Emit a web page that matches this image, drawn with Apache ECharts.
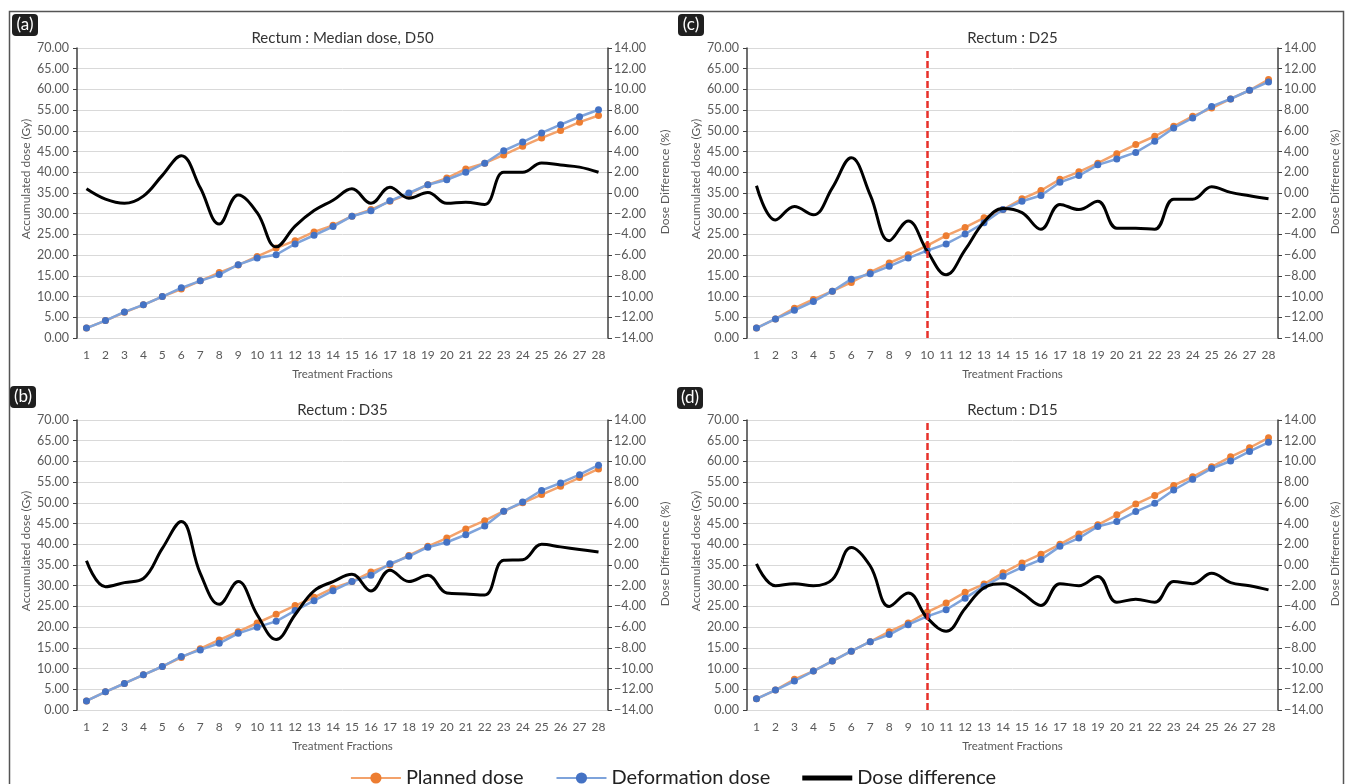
<!DOCTYPE html>
<html><head><meta charset="utf-8">
<script src="https://cdn.jsdelivr.net/npm/echarts@6/dist/echarts.min.js"></script>
<style>html,body{margin:0;padding:0;background:#fff}#c{width:1346px;height:784px}</style>
</head><body><div id="c"></div>
<script>
// ---- data ----
const fractions = ['1','2','3','4','5','6','7','8','9','10','11','12','13','14','15','16','17','18','19','20','21','22','23','24','25','26','27','28'];
const seriesNames = ['Planned dose','Deformation dose','Dose difference'];
const panelTitles = ['Rectum : Median dose, D50','Rectum : D35','Rectum : D25','Rectum : D15'];
const panelTags = ['(a)','(b)','(c)','(d)'];

// (a) Median dose, D50
const aPlanned = [2.4,4.2,6.2,8.0,10.0,11.8,13.8,15.8,17.6,19.7,21.7,23.5,25.6,27.2,29.4,31.0,33.0,34.8,37.0,38.6,40.8,42.2,44.2,46.3,48.3,50.1,52.1,53.7];
const aDeform  = [2.4,4.2,6.3,8.0,10.0,12.1,13.8,15.3,17.7,19.3,20.1,22.7,24.8,26.9,29.4,30.7,33.1,35.0,37.0,38.2,40.0,42.2,45.2,47.3,49.5,51.5,53.4,55.1];
const aDiff    = [0.4,-0.6,-1.0,-0.3,1.7,3.6,0.5,-3.0,-0.2,-1.9,-5.2,-3.2,-1.7,-0.7,0.4,-1.0,0.55,-0.5,0.05,-1.0,-0.9,-1.1,2.0,2.0,2.9,2.7,2.5,2.0];
// (b) D35
const bPlanned = [2.2,4.4,6.4,8.5,10.5,12.7,14.8,16.9,18.9,21.0,23.1,25.2,27.2,29.4,31.0,33.3,35.0,37.3,39.5,41.5,43.7,45.7,48.0,50.0,52.0,54.0,56.1,58.2];
const bDeform  = [2.2,4.4,6.4,8.5,10.5,12.9,14.5,16.1,18.5,20.0,21.4,24.0,26.4,28.8,31.0,32.5,35.3,37.1,39.3,40.5,42.3,44.4,48.0,50.2,53.0,54.8,56.8,59.1];
const bDiff    = [0.4,-2.1,-1.7,-1.3,1.6,4.2,-0.8,-3.8,-1.6,-4.8,-7.2,-4.8,-2.5,-1.6,-0.9,-2.5,-0.5,-1.6,-1.0,-2.7,-2.8,-2.9,0.45,0.5,2.0,1.75,1.5,1.25];
// (c) D25
const cPlanned = [2.4,4.6,7.2,9.3,11.3,13.4,15.9,18.1,20.1,22.3,24.7,26.7,29.0,31.0,33.6,35.6,38.3,40.1,42.2,44.5,46.7,48.7,51.1,53.5,55.5,57.7,59.8,62.4];
const cDeform  = [2.4,4.6,6.7,8.8,11.3,14.2,15.5,17.3,19.3,21.1,22.7,25.1,27.8,31.0,33.0,34.4,37.6,39.2,41.8,43.2,44.8,47.5,50.7,53.1,55.9,57.7,59.8,61.8];
const cDiff    = [0.7,-2.6,-1.3,-2.1,0.5,3.4,-0.2,-4.6,-2.7,-5.6,-7.9,-5.5,-2.8,-1.5,-1.9,-3.5,-1.1,-1.6,-0.8,-3.4,-3.4,-3.5,-0.6,-0.6,0.6,0.06,-0.26,-0.55];
// (d) D15
const dPlanned = [2.7,4.8,7.4,9.4,11.8,14.2,16.5,18.9,21.0,23.6,25.8,28.4,30.4,33.1,35.5,37.6,40.0,42.5,44.7,47.1,49.7,51.8,54.2,56.3,58.7,61.1,63.3,65.7];
const dDeform  = [2.7,4.8,7.0,9.4,11.8,14.2,16.5,18.2,20.6,22.6,24.2,27.0,29.9,32.3,34.4,36.3,39.5,41.5,44.3,45.5,47.9,49.9,53.1,55.7,58.3,60.1,62.4,64.6];
const dDiff    = [0.1,-2.0,-1.8,-2.0,-1.4,1.7,-0.1,-4.0,-2.7,-5.1,-6.4,-4.2,-2.2,-1.8,-2.7,-3.9,-1.8,-2.0,-1.1,-3.6,-3.3,-3.6,-1.6,-1.8,-0.8,-1.7,-2.0,-2.4];
const cutoffFraction = '10';

// ---- layout ----
const FONT = 'Lato, "Open Sans", sans-serif';
const panels = [
  {planned:aPlanned, deform:aDeform, diff:aDiff, cut:false, left:77,  top:48},
  {planned:bPlanned, deform:bDeform, diff:bDiff, cut:false, left:77,  top:420},
  {planned:cPlanned, deform:cDeform, diff:cDiff, cut:true,  left:747, top:48},
  {planned:dPlanned, deform:dDeform, diff:dDiff, cut:true,  left:747, top:420}
];
const GW = 531, GH = 290;
const fmt = v => (v < 0 ? '\u2212' + Math.abs(v).toFixed(2) : v.toFixed(2));

const grid = [], xAxis = [], yAxis = [], series = [], title = [], graphic = [];
const axisColor = '#404040', labelColor = '#595959';

panels.forEach((p, i) => {
  grid.push({left:p.left, top:p.top, width:GW, height:GH, containLabel:false});
  title.push({text:panelTitles[i], left:p.left + GW/2, top:p.top - 17, textAlign:'center', padding:0,
    textStyle:{fontFamily:FONT, fontSize:15, fontWeight:'normal', color:'#333'}});
  xAxis.push({type:'category', gridIndex:i, data:fractions, boundaryGap:true,
    axisLine:{show:false}, axisTick:{show:false},
    axisLabel:{interval:0, margin:11, fontFamily:FONT, fontSize:12, color:labelColor},
    name:'Treatment Fractions', nameLocation:'middle', nameGap:30,
    nameTextStyle:{fontFamily:FONT, fontSize:11.5, color:labelColor}});
  yAxis.push({type:'value', gridIndex:i, position:'left', min:0, max:70, interval:5,
    axisLine:{show:true, lineStyle:{color:axisColor, width:1.5}},
    axisTick:{show:true, length:4, lineStyle:{color:axisColor}},
    axisLabel:{margin:8, formatter:fmt, fontFamily:FONT, fontSize:12.5, color:labelColor},
    splitLine:{show:true, lineStyle:{color:'#d9d9d9', width:1}},
    name:'Accumulated dose (Gy)', nameLocation:'middle', nameRotate:90, nameGap:45,
    nameTextStyle:{fontFamily:FONT, fontSize:12, color:labelColor, padding:[0,0,0,28]}});
  yAxis.push({type:'value', gridIndex:i, position:'right', min:-14, max:14, interval:2,
    axisLine:{show:true, lineStyle:{color:axisColor, width:1.5}},
    axisTick:{show:true, length:4, lineStyle:{color:axisColor}},
    axisLabel:{margin:6, formatter:fmt, fontFamily:FONT, fontSize:12.5, color:labelColor},
    splitLine:{show:false},
    name:'Dose Difference (%)', nameLocation:'middle', nameRotate:90, nameGap:51,
    nameTextStyle:{fontFamily:FONT, fontSize:12, color:labelColor, padding:[0,0,0,22]}});
  series.push({name:seriesNames[0], type:'line', xAxisIndex:i, yAxisIndex:2*i, data:p.planned,
    symbol:'circle', symbolSize:7, itemStyle:{color:'#ED7D31'},
    lineStyle:{color:'#F3A26B', width:2.5}, z:2});
  series.push({name:seriesNames[1], type:'line', xAxisIndex:i, yAxisIndex:2*i, data:p.deform,
    symbol:'circle', symbolSize:7, itemStyle:{color:'#4472C4'},
    lineStyle:{color:'#7EA3DB', width:2.5}, z:3});
  const diffSeries = {name:seriesNames[2], type:'line', xAxisIndex:i, yAxisIndex:2*i+1, data:p.diff,
    symbol:'none', smooth:0.4, itemStyle:{color:'#000'}, lineStyle:{color:'#000', width:3}, z:4};
  if (p.cut) {
    diffSeries.markLine = {silent:true, symbol:'none', animation:false,
      label:{show:false}, lineStyle:{color:'#E8302A', type:[7,3], width:2.5},
      data:[{xAxis:cutoffFraction}]};
  }
  series.push(diffSeries);
});

// panel tags
const tagPos = [[12,14],[10,386],[678,14],[677,387]];
panelTags.forEach((t, i) => {
  graphic.push({type:'group', left:tagPos[i][0], top:tagPos[i][1], children:[
    {type:'rect', shape:{x:0, y:0, width:26, height:22, r:4}, style:{fill:'#1f1f1f'}},
    {type:'text', x:13, y:11, style:{text:t, fill:'#fff', font:'17px ' + FONT, align:'center', verticalAlign:'middle'}}
  ]});
});
// outer frame
graphic.push({type:'rect', left:7, top:9, shape:{width:1334, height:775}, silent:true,
  style:{fill:'none', stroke:'#555', lineWidth:1.5}, z:-1});

const chart = echarts.init(document.getElementById('c'), null, {renderer:'canvas'});
chart.setOption({
  animation:false,
  textStyle:{fontFamily:FONT},
  title, grid, xAxis, yAxis, series, graphic,
  legend:{
    data:[
      {name:seriesNames[0]},
      {name:seriesNames[1]},
      {name:seriesNames[2], icon:'path://M0,0h50v5h-50z', itemStyle:{color:'#000'}}
    ],
    left:'center', top:763, itemWidth:50, itemHeight:14, itemGap:32,
    textStyle:{fontFamily:FONT, fontSize:20, color:'#222'}}
});
</script></body></html>
